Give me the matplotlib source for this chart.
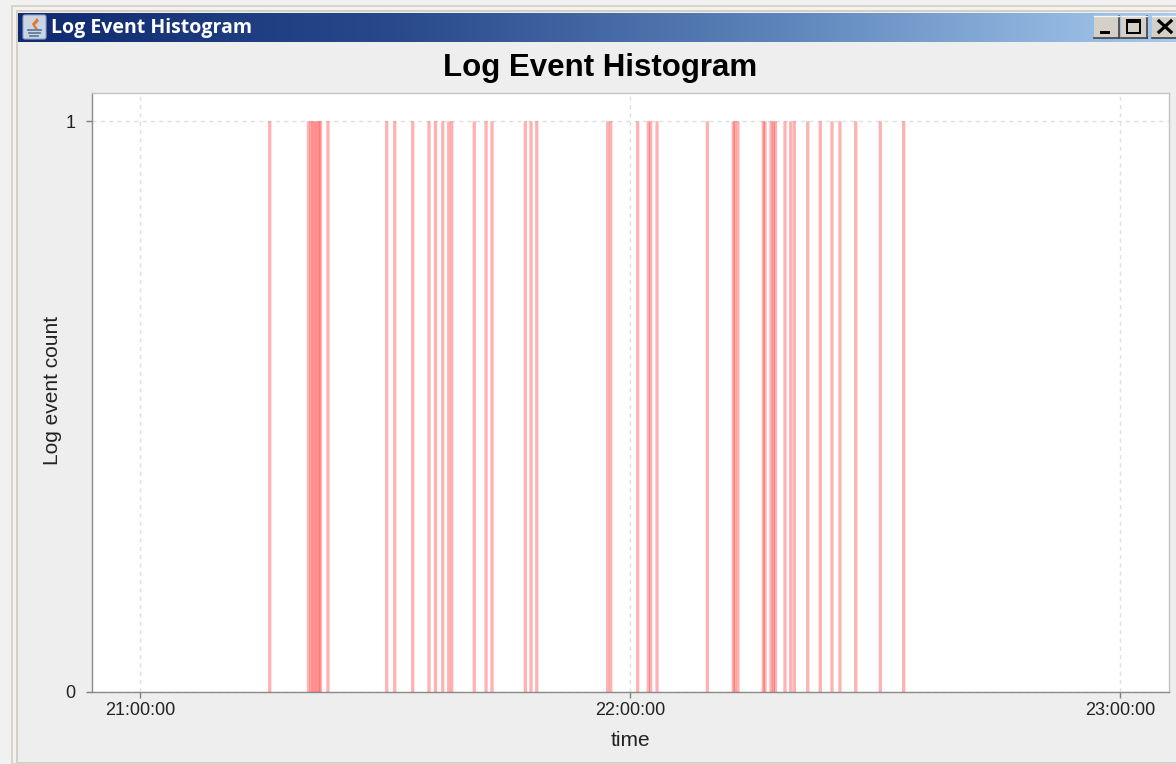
import numpy as np
import matplotlib
matplotlib.use("Agg")
import matplotlib.pyplot as plt
from matplotlib.patches import Rectangle, Polygon, FancyBboxPatch
from matplotlib.colors import LinearSegmentedColormap

TITLE = "Log Event Histogram"
X_LABEL = "time"
Y_LABEL = "Log event count"
tick_minutes = [0, 60, 120]          # minutes after 21:00:00
tick_labels = ["21:00:00", "22:00:00", "23:00:00"]
y_ticks = [0, 1]
event_minutes = [
    15.88, 20.63, 20.94, 21.18, 21.43, 21.67, 21.92, 22.10, 23.02, 30.21,
    31.19, 33.39, 35.39, 36.18, 37.07, 37.80, 38.17, 40.93, 42.37, 43.10,
    47.18, 47.88, 48.58, 57.27, 57.64, 60.94, 62.24, 62.53, 63.31, 69.47,
    72.65, 72.86, 73.22, 76.32, 76.53, 77.27, 77.55, 77.80, 78.98, 79.68,
    80.12, 81.76, 83.30, 84.73, 85.71, 87.64, 90.65, 93.51,
]
event_counts = [1] * len(event_minutes)

W, H = 1176, 764
plt.rcParams["font.family"] = ["Liberation Sans", "DejaVu Sans"]
fig = plt.figure(figsize=(W / 100, H / 100), dpi=100, facecolor="#EEEEEE")

# window chrome, in pixel coordinates
ch = fig.add_axes([0, 0, 1, 1], zorder=0)
ch.set_xlim(0, W); ch.set_ylim(H, 0); ch.axis("off")
ch.add_patch(Rectangle((0, 0), W, H, fc="#F1F1F1", ec="none"))
ch.add_patch(Rectangle((11, 5), W - 11, H - 5, fc="#D8D4CC", ec="none"))
ch.add_patch(Rectangle((13, 7), W - 13, H - 8, fc="#F4F2EE", ec="none"))
ch.add_patch(Rectangle((16, 10), W - 16, H - 11, fc="#D4D0C8", ec="none"))
ch.add_patch(Rectangle((18, 12), W - 18, H - 14, fc="#EEEEEE", ec="none"))
cmap = LinearSegmentedColormap.from_list("tb", ["#0F2A70", "#2A4A8C", "#5F86BC", "#A6CAEE"])
ch.imshow(np.linspace(0, 1, 600)[None, :], extent=(18, W, 42, 13), cmap=cmap, aspect="auto", zorder=1)
ch.set_xlim(0, W); ch.set_ylim(H, 0)
ch.text(51, 28.5, TITLE, color="white", fontsize=14, fontweight="bold", family="Open Sans",
        va="center", ha="left", zorder=3)

# java icon
ch.add_patch(FancyBboxPatch((23, 15), 23, 24, boxstyle="round,pad=0,rounding_size=2",
                            fc="#CBD5E4", ec="#8FA3C2", lw=0.8, zorder=2))
ch.add_patch(Polygon([(37, 18), (32, 24), (35, 29), (38, 29), (35, 25), (39, 21)], fc="#E07A2A", ec="none", zorder=3))
for y, x0, x1 in [(30, 28, 41), (33, 29, 40), (36, 30, 38)]:
    ch.plot([x0, x1], [y, y], color="#5F7F9A", lw=1.3, zorder=3)

# window buttons
for x0, x1 in [(1094, 1119), (1121, 1147), (1152, 1180)]:
    ch.add_patch(Rectangle((x0, 16), x1 - x0, 22, fc="#D4D0C8", ec="none", zorder=2))
    ch.plot([x0, x1], [38, 38], color="#404040", lw=1.2, zorder=3)
    ch.plot([x1, x1], [16, 38], color="#404040", lw=1.2, zorder=3)
    ch.plot([x0, x1], [16, 16], color="#F4F4F4", lw=1, zorder=3)
ch.add_patch(Rectangle((1100, 31), 10, 3, fc="black", ec="none", zorder=4))
ch.add_patch(Rectangle((1127, 20), 13, 13, fc="none", ec="black", lw=1.4, zorder=4))
ch.add_patch(Rectangle((1127, 20), 13, 2.5, fc="black", ec="none", zorder=4))
ch.plot([1159, 1171], [21, 32], color="black", lw=2.3, zorder=4)
ch.plot([1159, 1171], [32, 21], color="black", lw=2.3, zorder=4)

ch.text(600, 68, TITLE, fontsize=22.5, fontweight="bold", color="black", ha="center", va="center", zorder=3)

# plot area
left, right, top, bottom = 92, 1169, 93, 692
ax = fig.add_axes([left / W, 1 - bottom / H, (right - left) / W, (bottom - top) / H], zorder=2)
ax.set_facecolor("white")
bars = ax.bar(event_minutes, event_counts, width=0.40, color="red", alpha=0.30, linewidth=0, zorder=3)
for b in bars:
    b.set_snap(False)
ax.set_xlim(-5.88, 126.0)
ax.set_ylim(0, 1.0495)
ax.set_xticks(tick_minutes, tick_labels)
ax.set_yticks(y_ticks)
ax.grid(True, color="#E0E0E0", linestyle=(0, (3, 3)), linewidth=1)
ax.set_axisbelow(True)
ax.tick_params(axis="both", length=4, width=1, color="#808080", labelsize=13, labelcolor="#222222")
ax.tick_params(axis="x", pad=3)
ax.tick_params(axis="y", pad=8)
for s in ("top", "right"):
    ax.spines[s].set_color("#C4C4C4")
for s in ("left", "bottom"):
    ax.spines[s].set_color("#8A8A8A")
for s in ax.spines.values():
    s.set_linewidth(1.0)
ax.set_xlabel(X_LABEL, fontsize=15, color="#222222")
ax.set_ylabel(Y_LABEL, fontsize=15, color="#222222")
ax.yaxis.set_label_coords((52 - left) / (right - left), (692 - 390) / (bottom - top))
ax.xaxis.set_label_coords((630 - left) / (right - left), (692 - 741) / (bottom - top))
ax.xaxis.label.set_va("center")
ax.yaxis.label.set_va("center")

fig.savefig("out.png", dpi=100, facecolor=fig.get_facecolor())
